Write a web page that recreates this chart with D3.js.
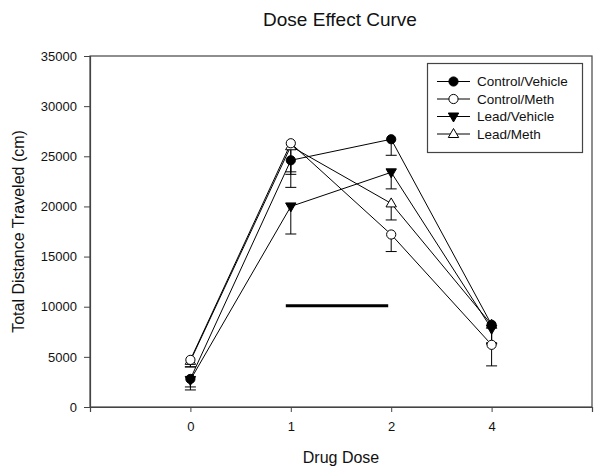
<!DOCTYPE html>
<html>
<head>
<meta charset="utf-8">
<script src="https://cdn.jsdelivr.net/npm/d3@7"></script>
<style>
  html, body { margin: 0; padding: 0; background: #fff; }
  svg { display: block; font-family: "Liberation Sans", Arial, sans-serif; }
</style>
</head>
<body>
<svg id="chart" width="602" height="475"></svg>
<script>
// ---- data ----
const doses = ["0", "1", "2", "4"];
const seriesNames = ["Control/Vehicle", "Control/Meth", "Lead/Vehicle", "Lead/Meth"];
const controlVehicle = [2800, 24600, 26700, 8200];
const controlVehicleErr = [800, 1150, 1600, 1800];
const controlMeth = [4700, 26300, 17200, 6200];
const controlMethErr = [700, 4400, 1700, 2100];
const leadVehicle = [2700, 20000, 23400, 7800];
const leadVehicleErr = [1000, 2750, 1650, 1500];
const leadMeth = [4600, 26000, 20300, 8200];
const leadMethErr = [600, 2800, 1650, 1900];
const yTicks = [0, 5000, 10000, 15000, 20000, 25000, 30000, 35000];
const sigBar = { from: "1", to: "2", value: 10100 };
const title = "Dose Effect Curve";
const xTitle = "Drug Dose";
const yTitle = "Total Distance Traveled (cm)";

const symbols = ["circleFilled", "circleOpen", "triDownFilled", "triUpOpen"];
const series = seriesNames.map((name, i) => ({
  name,
  values: [controlVehicle, controlMeth, leadVehicle, leadMeth][i],
  errs: [controlVehicleErr, controlMethErr, leadVehicleErr, leadMethErr][i],
  symbol: symbols[i]
}));

// ---- layout ----
const svg = d3.select("#chart");
const pLeft = 90, pRight = 592, pTop = 56, pBottom = 407;
const x = d3.scalePoint().domain(doses).range([pLeft, pRight]).padding(1);
const y = d3.scaleLinear().domain([0, 35000]).range([pBottom, pTop]);
const frameColor = "#444";

// frame
svg.append("rect").attr("x", pLeft).attr("y", pTop)
  .attr("width", pRight - pLeft).attr("height", pBottom - pTop)
  .attr("fill", "none").attr("stroke", frameColor).attr("stroke-width", 1.2);

// axes
const yAxis = d3.axisLeft(y).tickValues(yTicks).tickSize(6).tickPadding(7).tickFormat(d3.format("d"));
const gy = svg.append("g").attr("transform", `translate(${pLeft},0)`).call(yAxis);
const xAxis = d3.axisBottom(x).tickSize(5).tickPadding(10);
const gx = svg.append("g").attr("transform", `translate(0,${pBottom})`).call(xAxis);
[gx, gy].forEach(g => {
  g.select(".domain").attr("stroke", frameColor).attr("stroke-width", 1.2);
  g.selectAll(".tick line").attr("stroke", frameColor);
  g.selectAll(".tick text").attr("fill", "#111").style("font-size", "13px")
    .style("font-family", '"Liberation Sans", Arial, sans-serif');
});

// titles
svg.append("text").attr("x", 340).attr("y", 26).attr("text-anchor", "middle")
  .style("font-size", "19px").attr("fill", "#111").text(title);
svg.append("text").attr("x", x("1") + (x("2") - x("1")) / 2).attr("y", 463).attr("text-anchor", "middle")
  .style("font-size", "16px").attr("fill", "#111").text(xTitle);
svg.append("text").attr("transform", `translate(24,${(pTop + pBottom) / 2}) rotate(-90)`)
  .attr("text-anchor", "middle").style("font-size", "16px").attr("fill", "#111").text(yTitle);

// significance bar
svg.append("line").attr("x1", x(sigBar.from) - 5).attr("x2", x(sigBar.to) - 3)
  .attr("y1", y(sigBar.value)).attr("y2", y(sigBar.value))
  .attr("stroke", "#000").attr("stroke-width", 3);

// symbol drawer
function drawSymbol(g, type, cx, cy) {
  const r = 4.6;
  if (type === "circleFilled" || type === "circleOpen") {
    g.append("circle").attr("cx", cx).attr("cy", cy).attr("r", r)
      .attr("fill", type === "circleFilled" ? "#000" : "#fff")
      .attr("stroke", "#000").attr("stroke-width", 1);
  } else if (type === "triDownFilled") {
    const s = 5.2;
    g.append("path").attr("d", `M${cx - s},${cy - 3.5}L${cx + s},${cy - 3.5}L${cx},${cy + 5.5}Z`)
      .attr("fill", "#000").attr("stroke", "#000").attr("stroke-width", 1);
  } else {
    const s = 5.2;
    g.append("path").attr("d", `M${cx - s},${cy + 3.5}L${cx + s},${cy + 3.5}L${cx},${cy - 5.5}Z`)
      .attr("fill", "#fff").attr("stroke", "#000").attr("stroke-width", 1);
  }
}

// lines
const line = d3.line().x((d, i) => x(doses[i])).y(d => y(d));
const gLines = svg.append("g");
series.forEach(s => {
  gLines.append("path").datum(s.values).attr("d", line)
    .attr("fill", "none").attr("stroke", "#000").attr("stroke-width", 1);
});

// error bars (downward only)
const gErr = svg.append("g").attr("stroke", "#000").attr("stroke-width", 1);
series.forEach(s => {
  s.values.forEach((v, i) => {
    const cx = x(doses[i]);
    gErr.append("line").attr("x1", cx).attr("x2", cx).attr("y1", y(v)).attr("y2", y(v - s.errs[i]));
    gErr.append("line").attr("x1", cx - 5.5).attr("x2", cx + 5.5)
      .attr("y1", y(v - s.errs[i])).attr("y2", y(v - s.errs[i]));
  });
});

// markers
const gMarks = svg.append("g");
series.slice().reverse().forEach(s => {
  s.values.forEach((v, i) => drawSymbol(gMarks, s.symbol, x(doses[i]), y(v)));
});

// legend
const lg = svg.append("g");
lg.append("rect").attr("x", 427.5).attr("y", 63.5).attr("width", 155).attr("height", 89)
  .attr("fill", "#fff").attr("stroke", frameColor).attr("stroke-width", 1.2);
series.forEach((s, i) => {
  const ly = 81.5 + i * 17.5;
  lg.append("line").attr("x1", 437).attr("x2", 470).attr("y1", ly).attr("y2", ly)
    .attr("stroke", "#000").attr("stroke-width", 1);
  drawSymbol(lg, s.symbol, 453.5, ly);
  lg.append("text").attr("x", 477).attr("y", ly + 4.5).style("font-size", "13.5px")
    .attr("fill", "#111").text(s.name);
});
</script>
</body>
</html>
